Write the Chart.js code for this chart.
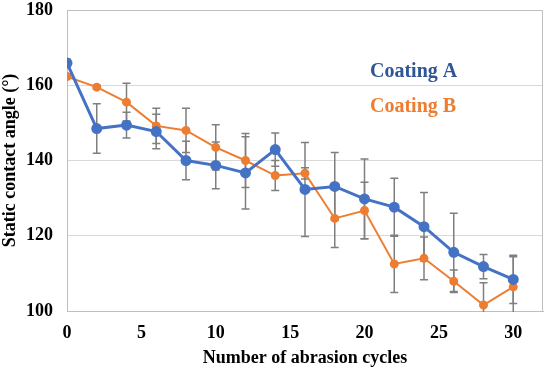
<!DOCTYPE html>
<html>
<head>
<meta charset="utf-8">
<script src="https://cdn.jsdelivr.net/npm/chart.js@4/dist/chart.umd.min.js"></script>
<style>
  html, body { margin: 0; padding: 0; background: #fff; }
  #wrap { width: 550px; height: 369px; }
</style>
</head>
<body>
<div id="wrap"><canvas id="angleChart"></canvas></div>
<script>
// abrasion cycles and mean static contact angle (deg)
const cycles   = [0, 2, 4, 6, 8, 10, 12, 14, 16, 18, 20, 22, 24, 26, 28, 30];
const coatingA = [165.9, 148.5, 149.4, 147.7, 140.0, 138.7, 136.7, 142.9, 132.3, 133.1, 129.8, 127.6, 122.4, 115.6, 111.8, 108.4];
const coatingB = [162.3, 159.5, 155.5, 149.2, 148.0, 143.5, 140.0, 136.0, 136.6, 124.6, 126.7, 112.5, 114.0, 107.9, 101.6, 106.4];
// standard deviations
const errA = [1.0, 6.6, 3.4, 4.6, 5.1, 6.2, 9.6, 4.4, 12.5, 9.0, 10.6, 7.7, 9.1, 10.4, 3.2, 6.4];
const errB = [0.4, 0.5, 5.0, 4.7, 5.9, 6.0, 7.2, 4.0, 1.5, 7.7, 7.5, 7.6, 5.7, 3.0, 5.9, 8.0];

const xTicks = [0, 5, 10, 15, 20, 25, 30];

const blue = '#4472C4';
const orange = '#ED7D31';
const serif = "'Liberation Serif', 'Times New Roman', serif";

function toPoints(ys) {
  return cycles.map((c, i) => ({ x: c, y: ys[i] }));
}

// error bars drawn under the lines, using the chart's scales
const errorBars = {
  id: 'errorBars',
  beforeDatasetsDraw(chart) {
    const { ctx, chartArea, scales } = chart;
    const sets = [[coatingA, errA], [coatingB, errB]];
    ctx.save();
    ctx.beginPath();
    ctx.rect(chartArea.left, chartArea.top, chartArea.right - chartArea.left, chartArea.bottom - chartArea.top + 1);
    ctx.clip();
    ctx.strokeStyle = '#7f7f7f';
    ctx.lineWidth = 1.5;
    sets.forEach(([vals, errs]) => {
      vals.forEach((v, i) => {
        const px = scales.x.getPixelForValue(cycles[i]);
        const top = scales.y.getPixelForValue(v + errs[i]);
        const bot = scales.y.getPixelForValue(v - errs[i]);
        ctx.beginPath();
        ctx.moveTo(px, top); ctx.lineTo(px, bot);
        ctx.moveTo(px - 4, top); ctx.lineTo(px + 4, top);
        ctx.moveTo(px - 4, bot); ctx.lineTo(px + 4, bot);
        ctx.stroke();
      });
    });
    ctx.restore();
  }
};

// right border of the plot and the in-plot labels
const frameAndLabels = {
  id: 'frameAndLabels',
  afterDraw(chart) {
    const { ctx, chartArea } = chart;
    ctx.save();
    ctx.strokeStyle = '#bfbfbf';
    ctx.lineWidth = 1;
    ctx.beginPath();
    ctx.moveTo(chartArea.left, chartArea.top + 0.5);
    ctx.lineTo(chartArea.right - 0.5, chartArea.top + 0.5);
    ctx.lineTo(chartArea.right - 0.5, chartArea.bottom);
    ctx.stroke();
    ctx.font = "bold 20px " + serif;
    ctx.textBaseline = 'alphabetic';
    ctx.fillStyle = '#2F5597';
    ctx.fillText('Coating A', 370, 77);
    ctx.fillStyle = orange;
    ctx.fillText('Coating B', 370, 112);
    ctx.restore();
  }
};

new Chart(document.getElementById('angleChart'), {
  type: 'line',
  data: {
    datasets: [
      {
        label: 'Coating A',
        data: toPoints(coatingA),
        borderColor: blue,
        backgroundColor: blue,
        borderWidth: 3,
        pointRadius: 4,
        pointHoverRadius: 4,
        tension: 0
      },
      {
        label: 'Coating B',
        data: toPoints(coatingB),
        borderColor: orange,
        backgroundColor: orange,
        borderWidth: 2,
        pointRadius: 3.5,
        pointHoverRadius: 3.5,
        tension: 0
      }
    ]
  },
  options: {
    responsive: true,
    maintainAspectRatio: false,
    animation: false,
    layout: { padding: { left: 0, right: 5, top: 0, bottom: 0 } },
    plugins: {
      legend: { display: false },
      tooltip: { enabled: false }
    },
    scales: {
      x: {
        type: 'linear',
        min: 0,
        max: 32,
        afterBuildTicks(scale) {
          scale.ticks = xTicks.map(v => ({ value: v }));
        },
        afterFit(scale) {
          scale.height = 58;
          scale.paddingLeft = 0;
          scale.paddingRight = 0;
        },
        grid: { display: false, drawTicks: false },
        border: { color: '#bfbfbf', width: 1 },
        ticks: {
          padding: 12,
          color: '#000',
          font: { family: serif, size: 18, weight: 'bold' }
        },
        title: {
          display: true,
          text: 'Number of abrasion cycles',
          color: '#000',
          padding: { top: 2, bottom: 0 },
          font: { family: serif, size: 18, weight: 'bold' }
        }
      },
      y: {
        min: 100,
        max: 180,
        afterFit(scale) {
          scale.width = 67;
          scale.paddingTop = 10;
          scale.paddingBottom = 0;
        },
        grid: { color: '#d9d9d9', drawTicks: false },
        border: { color: '#bfbfbf', width: 1 },
        ticks: {
          stepSize: 20,
          padding: 14,
          color: '#000',
          font: { family: serif, size: 18, weight: 'bold' }
        },
        title: {
          display: true,
          text: 'Static contact angle (°)',
          color: '#000',
          padding: { top: 0, bottom: 0 },
          font: { family: serif, size: 18, weight: 'bold' }
        }
      }
    }
  },
  plugins: [errorBars, frameAndLabels]
});
</script>
</body>
</html>
